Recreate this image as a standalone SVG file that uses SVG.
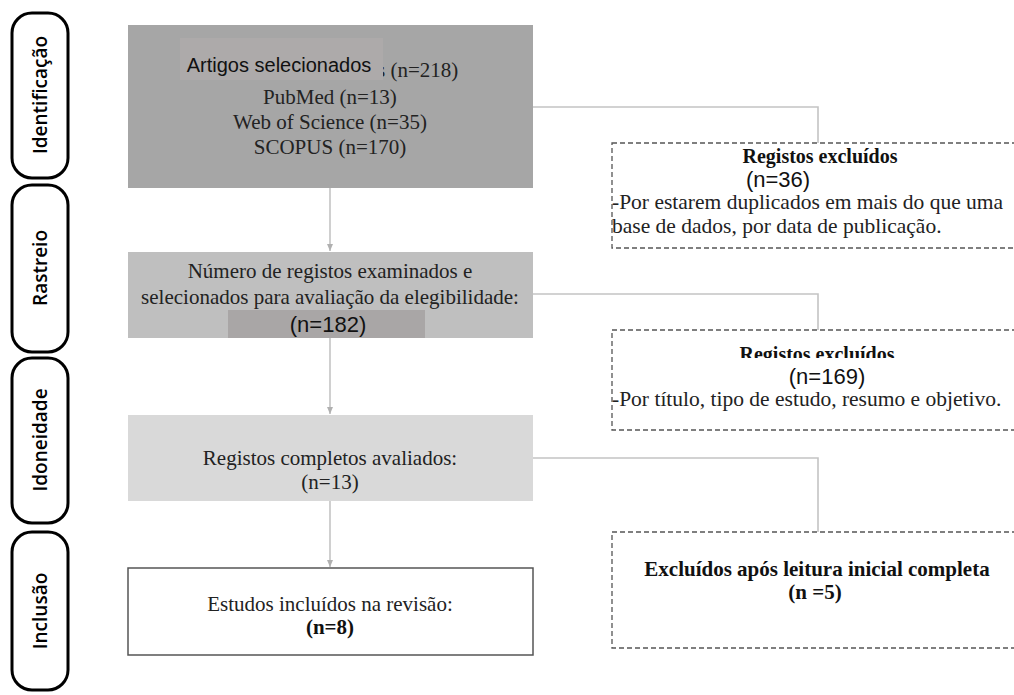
<svg xmlns="http://www.w3.org/2000/svg" width="1014" height="695" viewBox="0 0 1014 695">
<defs>
<style>
.pill{fill:#fff;stroke:#000;stroke-width:3}
.pt{font-family:"Open Sans",sans-serif;font-weight:600;font-size:19px;fill:#000;text-anchor:middle}
.tn{font-family:"Liberation Serif",serif;font-size:21px;fill:#222;text-anchor:middle}
.tb{font-family:"Liberation Serif",serif;font-size:21px;font-weight:bold;fill:#111;text-anchor:middle}
.ar{font-family:"Liberation Sans",sans-serif;font-size:22px;fill:#111;text-anchor:middle}
.dash{fill:#fff;stroke:#555;stroke-width:1.3;stroke-dasharray:5 3}
.con{fill:none;stroke:#c4c4c4;stroke-width:1.6}
</style>
<marker id="ah" markerWidth="8" markerHeight="8" refX="7" refY="4" orient="auto" markerUnits="userSpaceOnUse">
<path d="M0,1 L7,4 L0,7 Z" fill="#b0b0b0"/>
</marker>
<clipPath id="clipB"><rect x="612" y="330" width="402" height="28"/></clipPath>
</defs>

<g id="phase-identificacao"><rect class="pill" x="12" y="13" width="56" height="165" rx="20"/><text class="pt" transform="translate(47,95) rotate(-90)">Identificação</text></g>
<g id="phase-rastreio"><rect class="pill" x="12" y="185" width="56" height="167" rx="20"/><text class="pt" transform="translate(47,268) rotate(-90)">Rastreio</text></g>
<g id="phase-idoneidade"><rect class="pill" x="12" y="358" width="56" height="165" rx="20"/><text class="pt" transform="translate(47,440) rotate(-90)">Idoneidade</text></g>
<g id="phase-inclusao"><rect class="pill" x="12" y="532" width="56" height="158" rx="20"/><text class="pt" transform="translate(47,611) rotate(-90)">Inclusão</text></g>

<g id="connectors">
<path class="con" d="M330,188 V251" marker-end="url(#ah)"/>
<path class="con" d="M330,338 V414" marker-end="url(#ah)"/>
<path class="con" d="M330,500 V567" marker-end="url(#ah)"/>
<path class="con" d="M533,107 H818 V143"/>
<path class="con" d="M533,294 H818 V330"/>
<path class="con" d="M533,458 H818 V532"/>
</g>

<g id="box-identificacao">
<rect x="128" y="25" width="405" height="163" fill="#a6a6a6"/>
<text class="tn" x="377" y="77" style="text-anchor:start">s (n=218)</text>
<rect x="180" y="38" width="203" height="42" fill="#adaaaa"/>
<text class="ar" x="279" y="72" style="font-size:20px">Artigos selecionados</text>
<text class="tn" x="330" y="104">PubMed (n=13)</text>
<text class="tn" x="330" y="129">Web of Science (n=35)</text>
<text class="tn" x="330" y="154">SCOPUS (n=170)</text>
</g>

<g id="box-rastreio">
<rect x="128" y="252" width="405" height="86" fill="#bfbfbf"/>
<text class="tn" x="330" y="278">Número de registos examinados e</text>
<text class="tn" x="330" y="304">selecionados para avaliação da elegibilidade:</text>
<rect x="228" y="310" width="197" height="28" fill="#a9a6a6"/>
<text class="ar" x="328" y="332">(n=182)</text>
</g>

<g id="box-idoneidade">
<rect x="128" y="415" width="405" height="86" fill="#d9d9d9"/>
<text class="tn" x="330" y="465">Registos completos avaliados:</text>
<text class="tn" x="330" y="489">(n=13)</text>
</g>

<g id="box-inclusao">
<rect x="128" y="568" width="405" height="87" fill="#fff" stroke="#555" stroke-width="1.5"/>
<text class="tn" x="330" y="611">Estudos incluídos na revisão:</text>
<text class="tb" x="330" y="634">(n=8)</text>
</g>

<g id="excl-1">
<rect class="dash" x="612" y="143" width="420" height="105"/>
<text class="tb" x="820" y="163" style="font-size:20px">Registos excluídos</text>
<text class="ar" x="778" y="187">(n=36)</text>
<text class="tn" x="612" y="209" style="text-anchor:start;font-size:21.5px">-Por estarem duplicados em mais do que uma</text>
<text class="tn" x="612" y="233" style="text-anchor:start;font-size:21.5px">base de dados, por data de publicação.</text>
</g>

<g id="excl-2">
<rect class="dash" x="612" y="330" width="420" height="100"/>
<text class="tb" x="817" y="361" style="font-size:20px" clip-path="url(#clipB)">Registos excluídos</text>
<text class="ar" x="827" y="384">(n=169)</text>
<text class="tn" x="612" y="406" style="text-anchor:start;font-size:21.5px">-Por título, tipo de estudo, resumo e objetivo.</text>
</g>

<g id="excl-3">
<rect class="dash" x="612" y="532" width="420" height="116"/>
<text class="tb" x="817" y="576">Excluídos após leitura inicial completa</text>
<text class="tb" x="815" y="599">(n =5)</text>
</g>
</svg>
